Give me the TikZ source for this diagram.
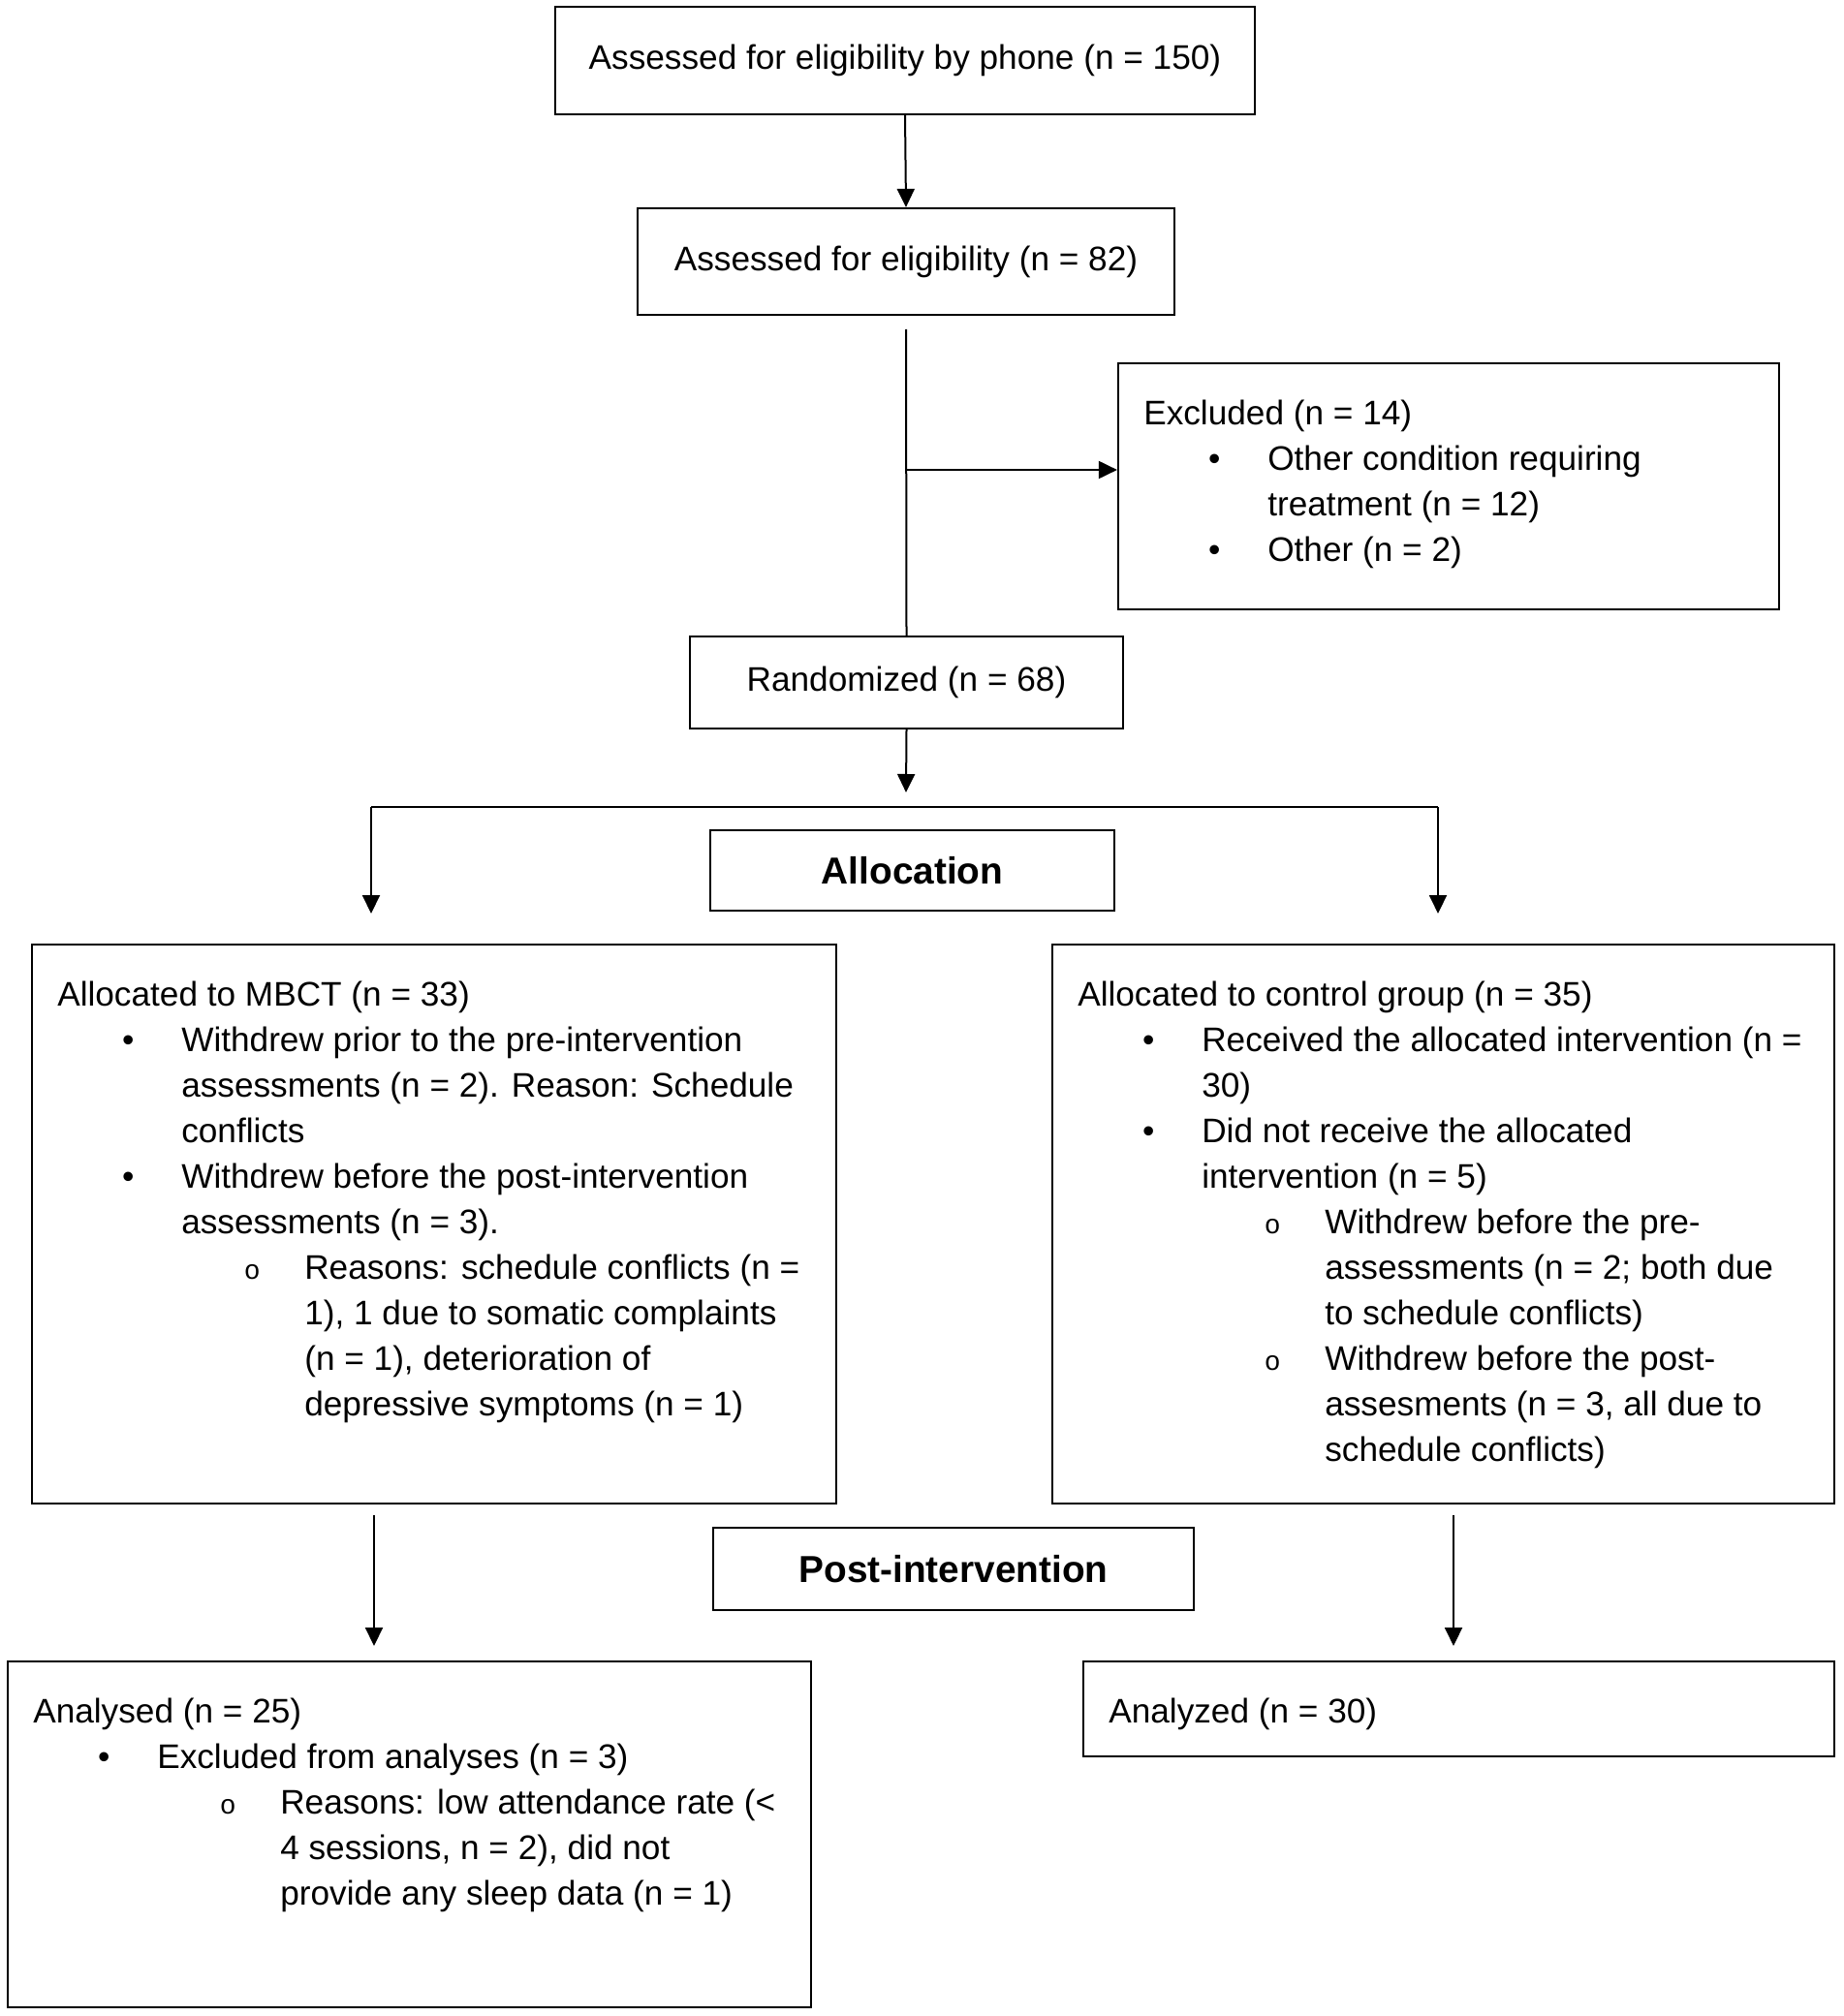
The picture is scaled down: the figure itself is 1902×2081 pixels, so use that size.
\documentclass[tikz,border=0pt]{standalone}
\usepackage{fontspec}
\setmainfont{Liberation Sans}
\newfontfamily\subfont{Liberation Mono}
\usetikzlibrary{arrows.meta}

\tikzstyle{box}=[draw,line width=1.1pt,rectangle,inner sep=0pt]
\tikzstyle{boxtext}=[anchor=north west,inner sep=0pt,align=left,xshift=13.5pt,yshift=-19.5pt]
\tikzstyle{head}=[font=\fontsize{19.4}{23.5}\selectfont\bfseries]
\tikzstyle{arrow}=[draw,line width=1pt,-{Triangle[length=9.5pt,width=9pt]}]
\tikzstyle{line}=[draw,line width=1pt,-]
\newcommand{\itm}{\hspace*{30.5pt}\makebox[12pt]{\textbullet}\hspace*{21.5pt}}
\newcommand{\itmcont}{\hspace*{64pt}}
\newcommand{\subitm}{\hspace*{94.5pt}\makebox[12pt]{\subfont\fontsize{14}{14}\selectfont o}\hspace*{21pt}}
\newcommand{\subcont}{\hspace*{127.5pt}}

\begin{document}
\begin{tikzpicture}[x=0.5pt, y=-0.5pt, font=\fontsize{17.6}{23.5}\selectfont]
    \useasboundingbox (0,0) rectangle (1902,2081);
    % First we draw the boxes
    \node[box, minimum width=361pt, minimum height=55.5pt] (phone) at (934,62.5) {Assessed for eligibility by phone (n = 150)};
    \node[box, minimum width=277pt, minimum height=55pt] (elig) at (935,270) {Assessed for eligibility (n = 82)};
    \node[box, minimum width=341pt, minimum height=127pt] (excl) at (1495,502) {};
    \node[box, minimum width=223.5pt, minimum height=47.5pt] (rand) at (935.5,704.5) {Randomized (n = 68)};
    \node[box, head, minimum width=208.5pt, minimum height=41.5pt] (alloc) at (941.5,898.5) {Allocation};
    \node[box, minimum width=415pt, minimum height=288.5pt] (mbct) at (448,1263.5) {};
    \node[box, minimum width=403.5pt, minimum height=288.5pt] (ctrl) at (1489.5,1263.5) {};
    \node[box, head, minimum width=248pt, minimum height=42.5pt] (post) at (984,1619.5) {Post-intervention};
    \node[box, minimum width=414.5pt, minimum height=178.5pt] (anaA) at (422.5,1893.5) {};
    \node[box, minimum width=387.5pt, minimum height=49pt] (anaB) at (1505.5,1764) {};

    % Texts of the list boxes
    \node[boxtext] (excltxt) at (excl.north west) {Excluded (n = 14)\\
        \itm Other condition requiring\\
        \itmcont treatment (n = 12)\\
        \itm Other (n = 2)};
    \node[boxtext] (mbcttxt) at (mbct.north west) {Allocated to MBCT (n = 33)\\
        \itm Withdrew prior to the pre-intervention\\
        \itmcont assessments (n = 2). Reason: Schedule\\
        \itmcont conflicts\\
        \itm Withdrew before the post-intervention\\
        \itmcont assessments (n = 3).\\
        \subitm Reasons: schedule conflicts (n =\\
        \subcont 1), 1 due to somatic complaints\\
        \subcont (n = 1), deterioration of\\
        \subcont depressive symptoms (n = 1)};
    \node[boxtext] (ctrltxt) at (ctrl.north west) {Allocated to control group (n = 35)\\
        \itm Received the allocated intervention (n =\\
        \itmcont 30)\\
        \itm Did not receive the allocated\\
        \itmcont intervention (n = 5)\\
        \subitm Withdrew before the pre-\\
        \subcont assessments (n = 2; both due\\
        \subcont to schedule conflicts)\\
        \subitm Withdrew before the post-\\
        \subcont assesments (n = 3, all due to\\
        \subcont schedule conflicts)};
    \node[boxtext] (anaAtxt) at (anaA.north west) {Analysed (n = 25)\\
        \itm Excluded from analyses (n = 3)\\
        \subitm Reasons: low attendance rate (<\\
        \subcont 4 sessions, n = 2), did not\\
        \subcont provide any sleep data (n = 1)};
    \node[boxtext] (anaBtxt) at (anaB.north west) {Analyzed (n = 30)};

    % Free ends of the connectors
    \foreach \pos/\name in {{(935,340)/split}, {(936,485)/tee}, {(935,818)/fork},
        {(383,833)/forkL}, {(1484,833)/forkR}, {(383,943)/tipL}, {(1484,943)/tipR},
        {(386,1564)/downL}, {(386,1699)/endL}, {(1500,1564)/downR}, {(1500,1699)/endR}}
        \node[coordinate] (\name) at \pos {};

    % Connect boxes with lines and arrows
    \foreach \source/\dest in {phone.south/elig.north, rand.south/fork, forkL/tipL, forkR/tipR, downL/endL, downR/endR}
        \path[arrow] (\source) -- (\dest);
    \path[line] (split) -- (rand.north);
    \path[line] (forkL) -- (forkR);
    \path[arrow] (tee) -- (tee -| excl.west);
\end{tikzpicture}
\end{document}
